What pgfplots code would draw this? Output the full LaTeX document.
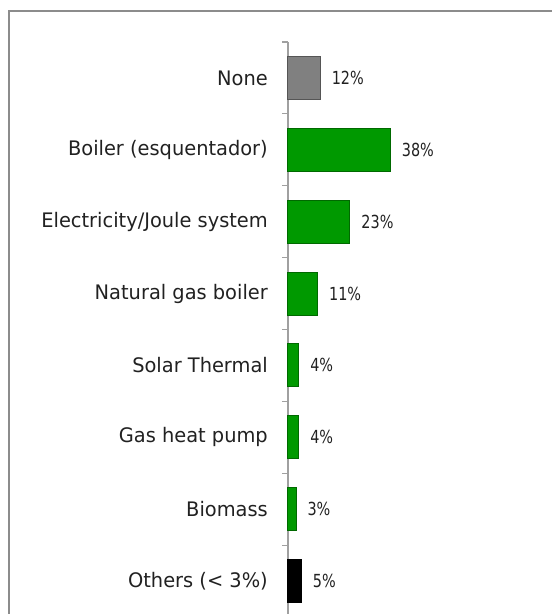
\documentclass[border=0pt]{standalone}
\usepackage{fontspec}
\setmainfont{DejaVu Sans}[FakeStretch=0.97]
\newfontfamily\pctfont{DejaVu Sans}[FakeStretch=0.8]
\usepackage{pgfplots}
\pgfplotsset{compat=1.18}

\definecolor{bargreen}{RGB}{0,153,0}
\definecolor{bargreenedge}{RGB}{0,105,0}
\definecolor{bargray}{RGB}{128,128,128}
\definecolor{bargrayedge}{RGB}{85,85,85}
\definecolor{framegray}{RGB}{140,140,140}
\definecolor{axisgray}{RGB}{160,160,160}

\begin{document}
\begin{tikzpicture}[x=1pt,y=1pt]
\clip (0,0) rectangle (552,614);
\draw[framegray, line width=2pt] (8.5,-20) -- (8.5,602.5) -- (620,602.5);

\begin{axis}[
    at={(288pt,572pt)}, anchor=north west,
    scale only axis,
    width=264pt, height=575pt,
    xbar, bar width=43pt, bar shift=0pt,
    xmin=0, xmax=98,
    ymin=-0.5, ymax=7.5,
    y dir=reverse,
    axis x line=none,
    axis y line*=left,
    y axis line style={axisgray, line width=1.2pt},
    ytick={0,...,7},
    yticklabels={None, Boiler (esquentador), Electricity/Joule system,
        Natural gas boiler, Solar Thermal, Gas heat pump, Biomass, Others (< 3\%)},
    major tick length=0pt,
    minor ytick={-0.5,0.5,1.5,2.5,3.5,4.5,5.5,6.5,7.5},
    minor tick length=6pt,
    tick align=outside,
    minor tick style={axisgray, line width=1.2pt},
    yticklabel style={font=\fontsize{20}{24}\selectfont, text=black!87,
        anchor=east, inner sep=0pt, xshift=-20pt},
    point meta=x,
    nodes near coords={\pgfmathprintnumber[assume math mode=true]{\pgfplotspointmeta}\%},
    every node near coord/.append style={font=\pctfont\fontsize{18}{22}\selectfont,
        text=black!87, anchor=west, inner sep=0pt, xshift=11pt},
    clip=false,
]

% None
\addplot[fill=bargray, draw=bargrayedge, line width=1pt]
coordinates {(12,0)};

% heating systems
\addplot[fill=bargreen, draw=bargreenedge, line width=1pt]
coordinates {
    (38,1)
    (23,2)
    (11,3)
    (4,4)
    (4,5)
    (3,6)
};

% others
\addplot[fill=black, draw=black, line width=1pt]
coordinates {(5,7)};

\end{axis}
\end{tikzpicture}
\end{document}
